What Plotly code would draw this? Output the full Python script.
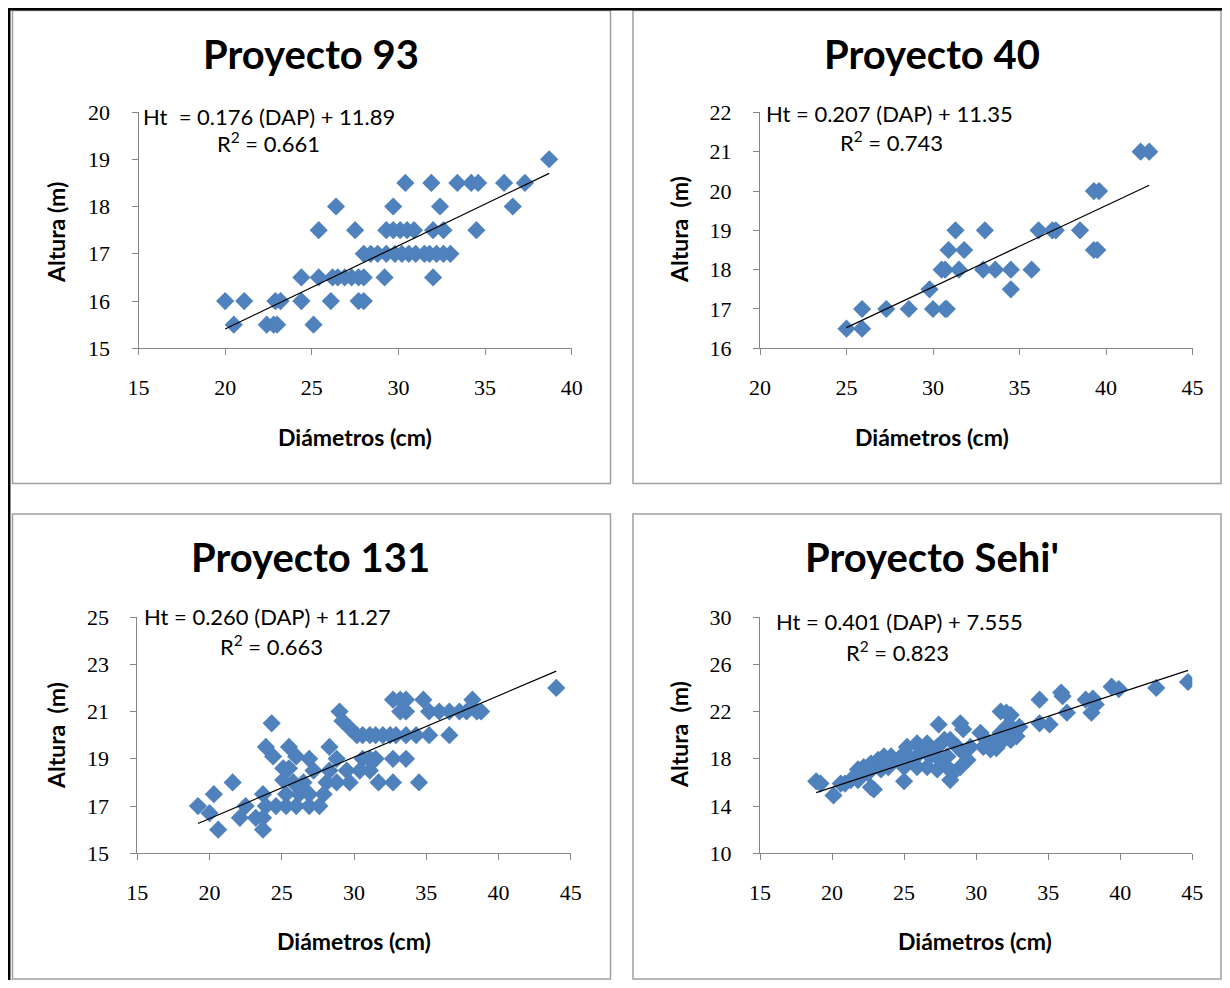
import plotly.graph_objects as go

# The page body keeps its default 8px margin, so the figure is laid out in
# page pixels shifted by OFF and sized to fit the window exactly.
OFF = 8
W, H = 1214, 972

# ---------------- data ----------------
titles = ["Proyecto 93", "Proyecto 40", "Proyecto 131", "Proyecto Sehi'"]

x93 = [38.7,
       30.4, 31.9, 33.4, 34.2, 34.6, 36.1, 37.3,
       26.4, 29.7, 32.4, 36.6,
       25.4, 27.5, 29.3, 29.7, 30.1, 30.5, 30.9, 32.0, 32.6, 34.5,
       28.0, 28.4, 28.8, 29.3, 29.8, 30.2, 30.6, 31.0, 31.5, 31.8, 32.2, 32.6, 33.0,
       24.4, 25.4, 26.2, 26.5, 26.9, 27.3, 27.7, 28.0, 29.2, 32.0,
       20.0, 21.1, 22.9, 23.2, 24.4, 26.1, 27.7, 28.0,
       20.5, 22.4, 22.8, 23.0, 25.1]
y93 = [19.0,
       18.5, 18.5, 18.5, 18.5, 18.5, 18.5, 18.5,
       18.0, 18.0, 18.0, 18.0,
       17.5, 17.5, 17.5, 17.5, 17.5, 17.5, 17.5, 17.5, 17.5, 17.5,
       17.0, 17.0, 17.0, 17.0, 17.0, 17.0, 17.0, 17.0, 17.0, 17.0, 17.0, 17.0, 17.0,
       16.5, 16.5, 16.5, 16.5, 16.5, 16.5, 16.5, 16.5, 16.5, 16.5,
       16.0, 16.0, 16.0, 16.0, 16.0, 16.0, 16.0, 16.0,
       15.5, 15.5, 15.5, 15.5, 15.5]

x40 = [42.0, 42.5, 39.3, 39.6, 31.3, 33.0, 36.1, 36.9, 37.1, 38.5,
       30.9, 31.8, 39.3, 39.5, 30.5, 30.7, 31.5, 32.9, 33.6, 34.5,
       35.7, 29.8, 34.5, 25.9, 27.3, 28.6, 30.0, 30.7, 30.8, 25.0, 25.9]
y40 = [21.0, 21.0, 20.0, 20.0, 19.0, 19.0, 19.0, 19.0, 19.0, 19.0,
       18.5, 18.5, 18.5, 18.5, 18.0, 18.0, 18.0, 18.0, 18.0, 18.0,
       18.0, 17.5, 17.5, 17.0, 17.0, 17.0, 17.0, 17.0, 17.0, 16.5, 16.5]

x131 = [44.0,
        32.7, 33.2, 33.6, 34.8, 38.2,
        29.0, 33.2, 33.6, 35.2, 35.9, 36.6, 37.3, 37.8, 38.5, 38.8,
        24.3, 29.2, 29.7,
        30.2, 30.6, 31.1, 31.5, 32.0, 32.5, 32.9, 33.6, 34.3, 35.2, 36.6,
        23.9, 25.5, 28.3,
        24.4, 26.0, 26.9, 28.8, 30.6, 31.1, 31.5, 32.7, 33.6,
        25.1, 25.5, 27.2, 28.3, 29.5, 30.4, 31.1,
        25.1, 25.8, 26.5, 28.1, 28.8, 29.7, 31.7, 32.7, 34.5,
        21.6,
        20.3, 23.7, 25.3, 26.2, 26.9, 27.9,
        19.2, 22.5, 23.9, 24.6, 25.3, 26.0, 26.9, 27.6,
        20.0,
        22.1, 23.2, 23.7,
        20.6, 23.7]
y131 = [22.0,
        21.5, 21.5, 21.5, 21.5, 21.5,
        21.0, 21.0, 21.0, 21.0, 21.0, 21.0, 21.0, 21.0, 21.0, 21.0,
        20.5, 20.6, 20.3,
        20.0, 20.0, 20.0, 20.0, 20.0, 20.0, 20.0, 20.0, 20.0, 20.0, 20.0,
        19.5, 19.5, 19.5,
        19.1, 19.1, 19.0, 19.0, 19.0, 19.0, 19.0, 19.0, 19.0,
        18.6, 18.6, 18.5, 18.5, 18.5, 18.5, 18.5,
        18.1, 18.0, 18.0, 18.0, 18.0, 18.0, 18.0, 18.0, 18.0,
        18.0,
        17.5, 17.5, 17.5, 17.5, 17.5, 17.5,
        17.0, 17.0, 17.0, 17.0, 17.0, 17.0, 17.0, 17.0,
        16.7,
        16.5, 16.5, 16.5,
        16.0, 16.0]

xsehi = [44.7, 42.5, 39.4, 39.9, 35.9, 36.0, 34.4, 37.6, 38.1, 38.3,
         38.0, 36.3, 34.4, 35.1, 31.7, 32.1, 32.4, 27.4, 28.9, 29.1,
         30.3, 30.7, 31.2, 31.7, 32.1, 32.6, 32.8, 33.0, 30.5, 31.0,
         31.4, 31.9, 32.4,
         28.2, 28.7, 29.1, 29.4, 29.6, 28.9, 28.4, 28.2,
         25.2, 25.9, 26.6, 27.3, 27.8, 24.8, 25.5, 26.1, 26.8, 27.5,
         28.0, 24.1, 25.0, 25.9, 26.6, 27.3, 28.0, 25.0,
         20.9, 21.3, 21.8, 22.2, 22.7, 23.2, 23.6, 24.1, 21.8, 22.7,
         22.9, 22.5, 23.4, 23.9,
         18.9, 19.2, 20.1, 20.6]
ysehi = [24.5, 24.0, 24.1, 23.9, 23.6, 23.3, 23.0, 23.0, 23.1, 22.6,
         21.9, 21.9, 21.0, 20.9, 22.0, 21.9, 21.7, 20.9, 21.0, 20.5,
         20.2, 19.6, 19.3, 20.2, 20.7, 20.5, 19.9, 20.7, 19.0, 18.8,
         18.9, 19.6, 19.6,
         19.6, 19.0, 18.5, 17.9, 19.0, 17.3, 16.8, 16.2,
         19.0, 19.3, 19.3, 19.0, 19.6, 18.2, 17.9, 18.5, 18.2, 17.9,
         18.2, 17.6, 17.3, 17.3, 17.3, 17.1, 17.3, 16.1,
         15.9, 16.2, 17.1, 17.3, 17.6, 17.9, 18.2, 18.2, 16.2, 15.6,
         15.4, 16.8, 17.1, 17.3,
         16.1, 15.9, 14.9, 15.9]

slopes = [0.176, 0.207, 0.260, 0.401]
intercepts = [11.89, 11.35, 11.27, 7.555]
equations = ["Ht\u00a0\u00a0= 0.176 (DAP) + 11.89",
             "Ht = 0.207 (DAP) + 11.35",
             "Ht = 0.260 (DAP) + 11.27",
             "Ht = 0.401 (DAP) + 7.555"]
r2_labels = ["R<sup>2</sup> = 0.661", "R<sup>2</sup> = 0.743",
             "R<sup>2</sup> = 0.663", "R<sup>2</sup> = 0.823"]

x_ranges = [[15, 40], [20, 45], [15, 45], [15, 45]]
y_ranges = [[15, 20], [16, 22], [15, 25], [10, 30]]
y_dticks = [1, 1, 2, 4]
x_dtick = 5
y_titles = ["Altura (m)", "Altura\u00a0 (m)", "Altura\u00a0 (m)", "Altura\u00a0 (m)"]
x_title = "Diámetros (cm)"

# ---------------- layout geometry (page pixels) ----------------
def px(x):
    return (x - OFF) / W

def py(y):
    return 1 - (y - OFF) / H

plot_boxes = [  # x0, x1, ytop, ybottom
    (138.5, 571.7, 112.0, 348.3),
    (760.0, 1192.5, 112.4, 348.3),
    (137.3, 570.7, 617.0, 853.3),
    (760.0, 1192.3, 617.0, 853.3),
]
RIGHT = OFF + W - 1
BOTTOM = OFF + H - 1
panel_boxes = [
    (12.5, 10.5, 610.5, 483.5),
    (633, 10.5, RIGHT, 483.5),
    (12.5, 514, 610.5, BOTTOM),
    (633, 514, RIGHT, BOTTOM),
]
title_pos = [(311, 54), (932, 54), (310, 557), (932, 557)]
eq_pos = [(141, 116), (764, 113), (142, 616), (774, 621)]
r2_pos = [(268, 143), (891, 141), (271, 645), (897, 651)]
xt_pos = [(355, 437), (932, 437), (354, 941), (975, 941)]
yt_pos = [(56, 232), (679, 230), (56, 735), (679, 735)]

data_x = [x93, x40, x131, xsehi]
data_y = [y93, y40, y131, ysehi]

BLUE = "#4F81BD"
AXC = "#868686"
TICKFONT = dict(family="Liberation Serif, DejaVu Serif, serif", size=22, color="#000000")
SANS = "Lato, 'Open Sans', sans-serif"

fig = go.Figure()
layout = dict(template="none", width=W, height=H,
              margin=dict(l=0, r=0, t=0, b=0, pad=0, autoexpand=False),
              paper_bgcolor="white", plot_bgcolor="white", showlegend=False)

annotations = []
shapes = []

for i in range(4):
    suffix = "" if i == 0 else str(i + 1)
    xa, ya = "x" + suffix, "y" + suffix
    xs, ys = data_x[i], data_y[i]
    fig.add_trace(go.Scatter(x=xs, y=ys, mode="markers", xaxis=xa, yaxis=ya,
                             marker=dict(symbol="diamond", size=14, color=BLUE,
                                         line=dict(width=0)),
                             hoverinfo="x+y"))
    lx = [min(xs), max(xs)]
    ly = [slopes[i] * v + intercepts[i] for v in lx]
    fig.add_trace(go.Scatter(x=lx, y=ly, mode="lines", xaxis=xa, yaxis=ya,
                             line=dict(color="black", width=1.2),
                             hoverinfo="skip"))
    x0, x1, yt, yb = plot_boxes[i]
    layout["xaxis" + suffix] = dict(
        domain=[px(x0), px(x1)], anchor=ya, range=x_ranges[i], dtick=x_dtick,
        tick0=x_ranges[i][0], showline=True, linecolor=AXC, linewidth=1,
        ticks="outside", ticklen=6, tickcolor=AXC, showgrid=False, zeroline=False,
        tickfont=TICKFONT, ticklabelstandoff=13, fixedrange=True, automargin=False)
    layout["yaxis" + suffix] = dict(
        domain=[py(yb), py(yt)], anchor=xa, range=y_ranges[i], dtick=y_dticks[i],
        tick0=y_ranges[i][0], showline=True, linecolor=AXC, linewidth=1,
        ticks="outside", ticklen=6, tickcolor=AXC, showgrid=False, zeroline=False,
        tickfont=TICKFONT, ticklabelstandoff=17, fixedrange=True, automargin=False)

    bx0, by0, bx1, by1 = panel_boxes[i]
    shapes.append(dict(type="rect", xref="paper", yref="paper",
                       x0=px(bx0), x1=px(bx1), y0=py(by1), y1=py(by0),
                       line=dict(color="#a0a0a0", width=1.5), layer="below"))

    tx, ty = title_pos[i]
    annotations.append(dict(text="<b>" + titles[i] + "</b>", x=px(tx), y=py(ty),
                            xref="paper", yref="paper", showarrow=False,
                            xanchor="center", yanchor="middle",
                            font=dict(family=SANS, size=40, color="black")))
    ex, ey = eq_pos[i]
    annotations.append(dict(text=equations[i], x=px(ex), y=py(ey),
                            xref="paper", yref="paper", showarrow=False,
                            xanchor="left", yanchor="middle",
                            font=dict(family=SANS, size=22, color="black")))
    rx, ry = r2_pos[i]
    annotations.append(dict(text=r2_labels[i], x=px(rx), y=py(ry),
                            xref="paper", yref="paper", showarrow=False,
                            xanchor="center", yanchor="middle",
                            font=dict(family=SANS, size=22, color="black")))
    xtx, xty = xt_pos[i]
    annotations.append(dict(text="<b>" + x_title + "</b>", x=px(xtx), y=py(xty),
                            xref="paper", yref="paper", showarrow=False,
                            xanchor="center", yanchor="middle",
                            font=dict(family=SANS, size=23, color="black")))
    ytx, yty = yt_pos[i]
    annotations.append(dict(text="<b>" + y_titles[i] + "</b>", x=px(ytx), y=py(yty),
                            xref="paper", yref="paper", showarrow=False,
                            xanchor="center", yanchor="middle", textangle=-90,
                            font=dict(family=SANS, size=23, color="black")))

# outer frame: black top / left edge
shapes.append(dict(type="line", xref="paper", yref="paper",
                   x0=px(OFF), x1=px(OFF + W), y0=py(9.2), y1=py(9.2),
                   line=dict(color="black", width=2.5)))
shapes.append(dict(type="line", xref="paper", yref="paper",
                   x0=px(9.2), x1=px(9.2), y0=py(OFF), y1=py(OFF + H),
                   line=dict(color="black", width=2.5)))

layout["annotations"] = annotations
layout["shapes"] = shapes
fig.update_layout(**layout)

fig.write_html("out.html", config={"displayModeBar": False})
